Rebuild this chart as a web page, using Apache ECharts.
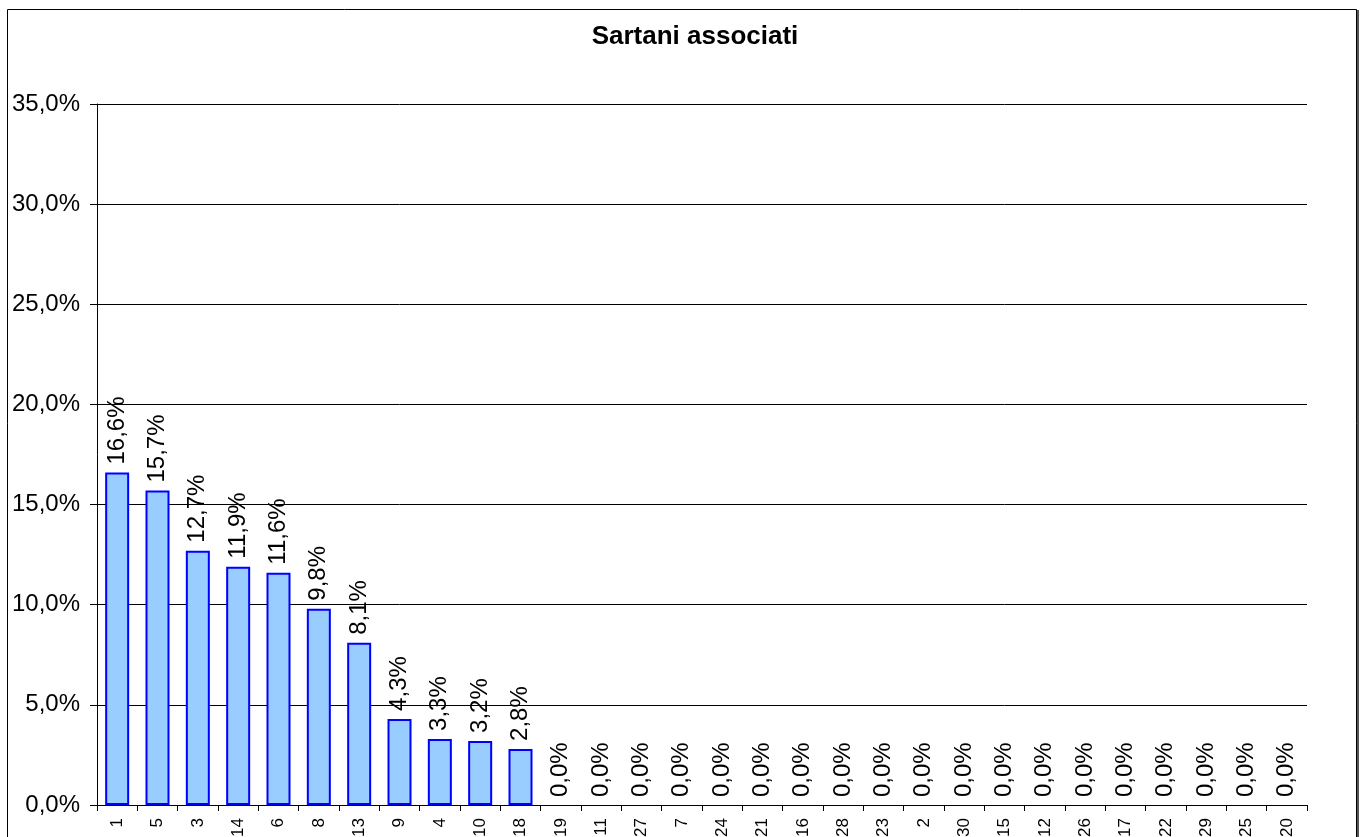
<!DOCTYPE html>
<html>
<head>
<meta charset="utf-8">
<title>Sartani associati</title>
<script src="https://cdn.jsdelivr.net/npm/echarts@6/dist/echarts.min.js"></script>
<style>
  html, body { margin: 0; padding: 0; background: #ffffff; }
  #chart { width: 1364px; height: 837px; }
</style>
</head>
<body>
<div id="chart"></div>
<script>
// Categories (in plotted order) and their share in percent
const categories = ['1', '5', '3', '14', '6', '8', '13', '9', '4', '10', '18', '19', '11', '27', '7',
                    '24', '21', '16', '28', '23', '2', '30', '15', '12', '26', '17', '22', '29', '25', '20'];
const shares = [16.6, 15.7, 12.7, 11.9, 11.6, 9.8, 8.1, 4.3, 3.3, 3.2, 2.8, 0, 0, 0, 0,
                0, 0, 0, 0, 0, 0, 0, 0, 0, 0, 0, 0, 0, 0, 0];
const yTicks = { min: 0, max: 35, step: 5 };

const FONT = '"Liberation Sans", Arial, sans-serif';
const pct = v => Number(v).toFixed(1).replace('.', ',') + '%';

// Empty bars get no outline so nothing is drawn on the axis for them
const barData = shares.map(v => ({
  value: v,
  itemStyle: v === 0 ? { borderWidth: 0 } : undefined
}));

const chart = echarts.init(document.getElementById('chart'), null, { renderer: 'canvas' });

chart.setOption({
  backgroundColor: '#ffffff',
  animation: false,
  title: {
    text: 'Sartani associati',
    left: 690,
    top: 19,
    textAlign: 'center',
    textStyle: { fontFamily: FONT, fontSize: 26, fontWeight: 'bold', color: '#000' }
  },
  graphic: [
    {
      type: 'rect',
      shape: { x: 7.5, y: 9.5, width: 1349, height: 900 },
      style: { fill: 'none', stroke: '#000', lineWidth: 1 },
      silent: true
    },
    {
      type: 'line',
      shape: { x1: 1358, y1: 10, x2: 1358, y2: 900 },
      style: { stroke: '#555', lineWidth: 2 },
      silent: true
    }
  ],
  grid: {
    left: 97, right: 57, top: 104, bottom: 32,
    containLabel: false,
    outerBoundsMode: 'none'
  },
  xAxis: {
    type: 'category',
    data: categories,
    axisLine: { lineStyle: { color: '#000', width: 1 } },
    axisTick: { show: true, alignWithLabel: false, length: 6, lineStyle: { color: '#000' } },
    axisLabel: {
      rotate: 90,
      interval: 0,
      margin: 13,
      fontFamily: FONT,
      fontSize: 17,
      color: '#000'
    },
    splitLine: { show: false }
  },
  yAxis: {
    type: 'value',
    min: yTicks.min,
    max: yTicks.max,
    interval: yTicks.step,
    axisLine: { show: true, lineStyle: { color: '#000', width: 1 } },
    axisTick: { show: true, length: 7, inside: false, lineStyle: { color: '#000' } },
    axisLabel: {
      margin: 17,
      fontFamily: FONT,
      fontSize: 24,
      color: '#000',
      formatter: v => pct(v)
    },
    splitLine: { show: true, lineStyle: { color: '#000', width: 1 } }
  },
  series: [{
    type: 'bar',
    data: barData,
    barWidth: 24,
    itemStyle: { color: '#99CCFF', borderColor: '#0000FF', borderWidth: 2 },
    label: {
      show: true,
      position: 'top',
      distance: 8,
      rotate: 90,
      align: 'left',
      verticalAlign: 'middle',
      fontFamily: FONT,
      fontSize: 24,
      color: '#000',
      formatter: p => pct(p.value)
    }
  }]
});
</script>
</body>
</html>
